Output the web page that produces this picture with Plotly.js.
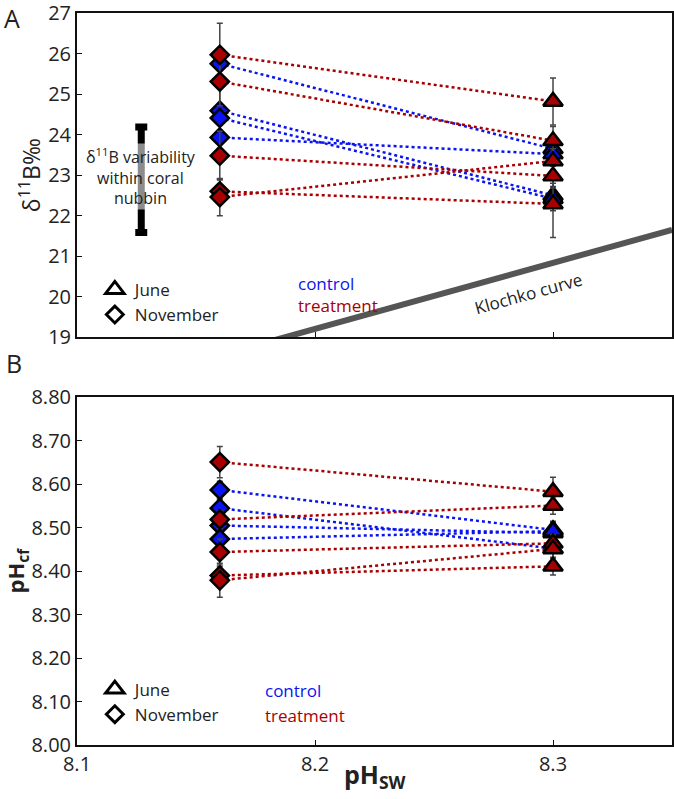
<!DOCTYPE html>
<html><head><meta charset="utf-8">
<script src="https://cdn.plot.ly/plotly-3.0.1.min.js"></script>
<style>html,body{margin:0;padding:0;background:#fff}#chart{width:674px;height:799px}</style>
</head><body><div id="chart"></div>
<script>
// x positions (pH of seawater) for the two sampling months
const pHswNovember = 8.16;
const pHswJune = 8.30;

// Panel A: d11B (per mil), November -> June pairs
const d11BControlNov = [25.75, 24.59, 24.41, 23.93];
const d11BControlNovErr = [0.30, 0.60, 0.30, 0.40];
const d11BControlJun = [23.65, 22.50, 22.42, 23.52];
const d11BControlJunErr = [0.30, 0.30, 0.30, 0.30];
const d11BTreatNov = [25.97, 25.31, 23.48, 22.60, 22.46];
const d11BTreatNovErr = [0.78, 0.60, 0.60, 0.30, 0.46];
const d11BTreatJun = [24.82, 23.85, 22.98, 22.29, 23.35];
const d11BTreatJunErr = [0.58, 0.35, 0.30, 0.83, 0.30];

// Panel B: pHcf, November -> June pairs
const pHcfControlNov = [8.587, 8.545, 8.505, 8.474];
const pHcfControlNovErr = [0.020, 0.020, 0.020, 0.020];
const pHcfControlJun = [8.495, 8.452, 8.488, 8.492];
const pHcfControlJunErr = [0.020, 0.020, 0.020, 0.020];
const pHcfTreatNov = [8.651, 8.519, 8.444, 8.390, 8.379];
const pHcfTreatNovErr = [0.036, 0.020, 0.030, 0.020, 0.039];
const pHcfTreatJun = [8.583, 8.551, 8.464, 8.411, 8.451];
const pHcfTreatJunErr = [0.033, 0.020, 0.020, 0.020, 0.020];

// tick labels
const d11BTicks = [19, 20, 21, 22, 23, 24, 25, 26, 27];
const pHcfTicks = [8.0, 8.1, 8.2, 8.3, 8.4, 8.5, 8.6, 8.7, 8.8];
const pHswTicks = [8.1, 8.2, 8.3];
const pHswTickText = ['8.1', '8.2', '8.3'];

// Klochko curve
const klochkoPH = [8.18, 8.35];
const klochkoD11B = [18.88, 21.65];

// within-nubbin variability bar
const nubbinX = [8.127];
const nubbinMean = [22.885];
const nubbinErr = [1.30];

const RED = '#a80000';
const BLUE = '#0a14f0';
const FONT = 'Open Sans, DejaVu Sans, sans-serif';
const DIA = 14, TRI = 17;

function pairLines(nov, jun, color, xa, ya) {
  const xs = [], ys = [];
  for (let i = 0; i < nov.length; i++) {
    xs.push(pHswNovember, pHswJune, null);
    ys.push(nov[i], jun[i], null);
  }
  return {x: xs, y: ys, xaxis: xa, yaxis: ya, mode: 'lines', hoverinfo: 'skip',
    line: {color: color, width: 2.5, dash: 'dot'}, showlegend: false};
}
function pts(xv, vals, errs, color, symbol, size, xa, ya) {
  return {x: vals.map(() => xv), y: vals, xaxis: xa, yaxis: ya, mode: 'markers', showlegend: false,
    marker: {symbol: symbol, size: size, color: color, line: {color: '#000', width: 2.5}},
    error_y: {type: 'data', array: errs, visible: true, color: '#444', thickness: 1.5, width: 3}};
}

const data = [
  {x: klochkoPH, y: klochkoD11B, xaxis: 'x', yaxis: 'y', mode: 'lines', showlegend: false,
   line: {color: '#555', width: 6}},
  {x: nubbinX, y: nubbinMean, xaxis: 'x', yaxis: 'y', mode: 'markers', showlegend: false,
   marker: {size: 1, color: 'rgba(0,0,0,0)'},
   error_y: {type: 'data', array: nubbinErr, visible: true, color: '#000', thickness: 7, width: 6}},
  pairLines(d11BControlNov, d11BControlJun, BLUE, 'x', 'y'),
  pairLines(d11BTreatNov, d11BTreatJun, RED, 'x', 'y'),
  pts(pHswNovember, d11BControlNov, d11BControlNovErr, BLUE, 'diamond', DIA, 'x', 'y'),
  pts(pHswJune, d11BControlJun, d11BControlJunErr, BLUE, 'triangle-up', TRI, 'x', 'y'),
  pts(pHswNovember, d11BTreatNov, d11BTreatNovErr, RED, 'diamond', DIA, 'x', 'y'),
  pts(pHswJune, d11BTreatJun, d11BTreatJunErr, RED, 'triangle-up', TRI, 'x', 'y'),

  pairLines(pHcfControlNov, pHcfControlJun, BLUE, 'x2', 'y2'),
  pairLines(pHcfTreatNov, pHcfTreatJun, RED, 'x2', 'y2'),
  pts(pHswNovember, pHcfControlNov, pHcfControlNovErr, BLUE, 'diamond', DIA, 'x2', 'y2'),
  pts(pHswJune, pHcfControlJun, pHcfControlJunErr, BLUE, 'triangle-up', TRI, 'x2', 'y2'),
  pts(pHswNovember, pHcfTreatNov, pHcfTreatNovErr, RED, 'diamond', DIA, 'x2', 'y2'),
  pts(pHswJune, pHcfTreatJun, pHcfTreatJunErr, RED, 'triangle-up', TRI, 'x2', 'y2'),

  // legend entries
  {x: [null], y: [null], xaxis: 'x', yaxis: 'y', mode: 'markers', name: 'June', legend: 'legend',
   marker: {symbol: 'triangle-up', size: 16, color: '#fff', line: {color: '#000', width: 3}}},
  {x: [null], y: [null], xaxis: 'x', yaxis: 'y', mode: 'markers', name: 'November', legend: 'legend',
   marker: {symbol: 'diamond', size: 13, color: '#fff', line: {color: '#000', width: 3}}},
  {x: [null], y: [null], xaxis: 'x2', yaxis: 'y2', mode: 'markers', name: 'June', legend: 'legend2',
   marker: {symbol: 'triangle-up', size: 16, color: '#fff', line: {color: '#000', width: 3}}},
  {x: [null], y: [null], xaxis: 'x2', yaxis: 'y2', mode: 'markers', name: 'November', legend: 'legend2',
   marker: {symbol: 'diamond', size: 13, color: '#fff', line: {color: '#000', width: 3}}}
];

const axisBase = {showline: true, mirror: true, linewidth: 2, linecolor: '#111', ticks: 'inside',
  ticklen: 5, tickwidth: 1, tickcolor: '#111', showgrid: false, zeroline: false,
  ticklabeloverflow: 'allow',
  tickfont: {family: FONT, size: 20, color: '#222'}};

const layout = {
  width: 674, height: 799,
  margin: {l: 77, r: 2, t: 13, b: 54},
  paper_bgcolor: '#fff', plot_bgcolor: '#fff',
  font: {family: FONT, color: '#222'},
  xaxis: Object.assign({}, axisBase, {domain: [0, 1], anchor: 'y', range: [8.1, 8.35],
    tickvals: pHswTicks, showticklabels: false}),
  yaxis: Object.assign({}, axisBase, {domain: [0.557, 1], anchor: 'x', range: [18.999, 27.001],
    tickvals: d11BTicks, ticktext: d11BTicks.map(String),
    title: {text: 'δ<sup>11</sup>B‰', font: {family: FONT, size: 23, color: '#222'}, standoff: 1}}),
  xaxis2: Object.assign({}, axisBase, {domain: [0, 1], anchor: 'y2', range: [8.1, 8.35],
    tickvals: pHswTicks, ticktext: pHswTickText}),
  yaxis2: Object.assign({}, axisBase, {domain: [0, 0.475], anchor: 'x2', range: [7.9999, 8.8001],
    tickvals: pHcfTicks, ticktext: pHcfTicks.map(v => v.toFixed(2)),
    title: {text: '<b>pH<sub>cf</sub></b>', font: {family: FONT, size: 22, color: '#222'}, standoff: 2}}),
  legend: {x: 0.03, y: 0.563, xanchor: 'left', yanchor: 'bottom', bgcolor: 'rgba(0,0,0,0)',
    font: {family: FONT, size: 17, color: '#222'}, tracegroupgap: 0},
  legend2: {x: 0.03, y: 0.017, xanchor: 'left', yanchor: 'bottom', bgcolor: 'rgba(0,0,0,0)',
    font: {family: FONT, size: 17, color: '#222'}, tracegroupgap: 0},
  annotations: [
    {text: 'A', xref: 'paper', yref: 'paper', x: -0.109, y: 0.993, xanchor: 'center', yanchor: 'middle',
     showarrow: false, font: {family: FONT, size: 25, color: '#222'}},
    {text: 'B', xref: 'paper', yref: 'paper', x: -0.106, y: 0.522, xanchor: 'center', yanchor: 'middle',
     showarrow: false, font: {family: FONT, size: 25, color: '#222'}},
    {text: '<b>pH<sub>SW</sub></b>', xref: 'paper', yref: 'paper', x: 0.5, y: -0.042,
     xanchor: 'center', yanchor: 'middle', showarrow: false, font: {family: FONT, size: 25, color: '#222'}},
    {text: 'control', xref: 'paper', yref: 'paper', x: 0.368, y: 0.631, xanchor: 'left', yanchor: 'middle',
     showarrow: false, font: {family: FONT, size: 17, color: BLUE}},
    {text: 'treatment', xref: 'paper', yref: 'paper', x: 0.368, y: 0.601, xanchor: 'left', yanchor: 'middle',
     showarrow: false, font: {family: FONT, size: 17, color: RED}},
    {text: 'control', xref: 'paper', yref: 'paper', x: 0.313, y: 0.075, xanchor: 'left', yanchor: 'middle',
     showarrow: false, font: {family: FONT, size: 17, color: BLUE}},
    {text: 'treatment', xref: 'paper', yref: 'paper', x: 0.313, y: 0.040, xanchor: 'left', yanchor: 'middle',
     showarrow: false, font: {family: FONT, size: 17, color: RED}},
    {text: 'δ<sup>11</sup>B variability<br>within coral<br>nubbin', xref: 'x', yref: 'y', x: 8.127, y: 22.96,
     showarrow: false, bgcolor: 'rgba(255,255,255,0.55)', borderpad: 0,
     font: {family: FONT, size: 16, color: '#222'}},
    {text: 'Klochko curve', xref: 'x', yref: 'y', x: 8.2895, y: 20.09, textangle: -15.5, showarrow: false,
     font: {family: FONT, size: 17, color: '#222'}}
  ]
};

Plotly.newPlot('chart', data, layout, {displayModeBar: false, staticPlot: true});
</script>
</body></html>
